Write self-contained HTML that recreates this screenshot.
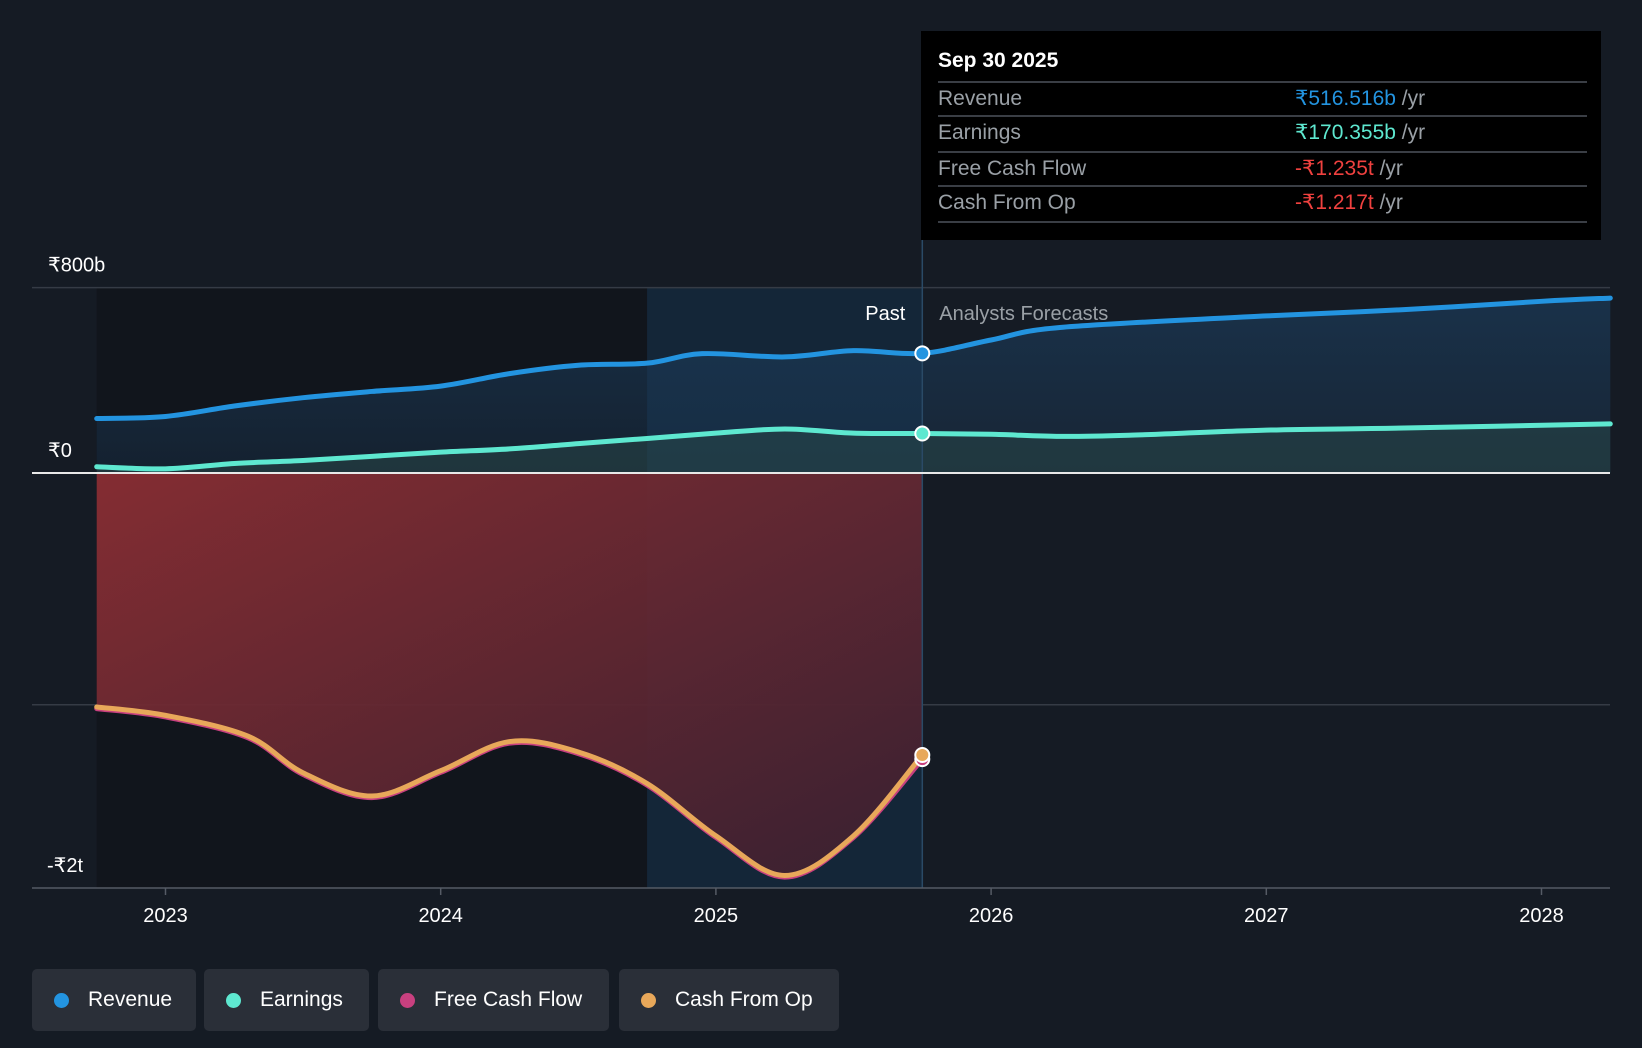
<!DOCTYPE html>
<html><head><meta charset="utf-8">
<style>
body{margin:0;background:#151b24;width:1642px;height:1048px;overflow:hidden;font-family:"Liberation Sans",sans-serif;}
#wrap{position:relative;width:1642px;height:1048px;}
svg{position:absolute;left:0;top:0;}
.tip{position:absolute;left:921px;top:31px;width:680px;height:209px;background:#000;}
.tip .h{position:absolute;left:17px;top:18px;color:#fff;font-size:21px;font-weight:bold;}
.row{position:absolute;left:17px;width:649px;height:34px;border-top:2px solid #3a3e45;font-size:21px;color:#9aa0a6;line-height:32px;}
.row .v{position:absolute;left:357px;top:0;}
.row .u{color:#9aa0a6;}
.legend{position:absolute;top:969px;height:62px;background:#2a2f38;border-radius:5px;color:#fff;font-size:21px;line-height:62px;}
.legend i{position:absolute;left:22px;top:24px;width:15px;height:15px;border-radius:50%;}
.legend span{position:absolute;left:56px;}
</style></head>
<body><div id="wrap">
<svg id="chart" width="1642" height="1048"></svg>
<div class="tip">
 <div class="h">Sep 30 2025</div>
 <div class="row" style="top:50px">Revenue<span class="v"><span style="color:#2394e0">₹516.516b</span> <span class="u">/yr</span></span></div>
 <div class="row" style="top:84px">Earnings<span class="v"><span style="color:#5ee8d0">₹170.355b</span> <span class="u">/yr</span></span></div>
 <div class="row" style="top:120px">Free Cash Flow<span class="v"><span style="color:#f0413f">-₹1.235t</span> <span class="u">/yr</span></span></div>
 <div class="row" style="top:154px;border-bottom:2px solid #3a3e45">Cash From Op<span class="v"><span style="color:#f0413f">-₹1.217t</span> <span class="u">/yr</span></span></div>
</div>
<div class="legend" style="left:32px;width:164px"><i style="background:#2394e0"></i><span>Revenue</span></div>
<div class="legend" style="left:204px;width:165px"><i style="background:#5ee8d0"></i><span>Earnings</span></div>
<div class="legend" style="left:378px;width:231px"><i style="background:#c8407f"></i><span>Free Cash Flow</span></div>
<div class="legend" style="left:619px;width:220px"><i style="background:#e8a85a"></i><span>Cash From Op</span></div>
</div>
<script>
const revT=[2022.75,2023,2023.25,2023.5,2023.75,2024,2024.25,2024.5,2024.75,2024.95,2025.25,2025.5,2025.75,2026,2026.25,2027,2027.5,2028,2028.25];
const revV=[235,244,289,325,352,375,429,465,474,515,501,528,516.5,574,628,678,705,741,755];
const earT=[2022.75,2023,2023.25,2023.5,2023.75,2024,2024.25,2024.5,2024.75,2025,2025.25,2025.5,2025.75,2026,2026.25,2026.5,2027,2027.5,2028.25];
const earV=[27,18,41,54,72,90,104,127,149,172,190,172,170.4,167,158,163,185,194,212];
const fcfT=[2022.75,2023,2023.3,2023.5,2023.75,2024,2024.25,2024.5,2024.75,2025,2025.25,2025.5,2025.75];
const fcfV=[-1017,-1053,-1143,-1301,-1401,-1292,-1166,-1211,-1347,-1573,-1744,-1573,-1235];
const cfoV=[-1010,-1046,-1136,-1294,-1394,-1285,-1159,-1204,-1340,-1566,-1737,-1566,-1217];
const yearTicks=[2023,2024,2025,2026,2027,2028];
const yTicks=[800,0,-1000];
const yLabels=["₹800b","₹0",""];

const X=t=>165.5+(t-2023)*275.2;
const Y=v=>473-v*0.2317;
const svg=document.getElementById('chart');
const NS='http://www.w3.org/2000/svg';
function el(tag,attrs,parent){const e=document.createElementNS(NS,tag);for(const k in attrs)e.setAttribute(k,attrs[k]);(parent||svg).appendChild(e);return e;}
function smooth(ts,vs){const p=ts.map((t,i)=>[X(t),Y(vs[i])]);let d=`M${p[0][0]},${p[0][1]}`;
 for(let i=0;i<p.length-1;i++){const p0=p[Math.max(0,i-1)],p1=p[i],p2=p[i+1],p3=p[Math.min(p.length-1,i+2)];
 const c1=[p1[0]+(p2[0]-p0[0])/6,p1[1]+(p2[1]-p0[1])/6],c2=[p2[0]-(p3[0]-p1[0])/6,p2[1]-(p3[1]-p1[1])/6];
 d+=`C${c1[0]},${c1[1]} ${c2[0]},${c2[1]} ${p2[0]},${p2[1]}`;}return d;}

const defs=el('defs',{});
let g=el('linearGradient',{id:'neg',x1:0,y1:0,x2:1,y2:1},defs);
el('stop',{offset:0,'stop-color':'#8a2e33'},g);el('stop',{offset:1,'stop-color':'#3a2030'},g);
g=el('linearGradient',{id:'neg2',x1:0,y1:0,x2:1,y2:1},defs);
el('stop',{offset:0,'stop-color':'#7a3040'},g);el('stop',{offset:1,'stop-color':'#4a3a58'},g);
g=el('linearGradient',{id:'rev',x1:0,y1:0,x2:0,y2:1},defs);
el('stop',{offset:0,'stop-color':'#1b3a58','stop-opacity':0.9},g);el('stop',{offset:1,'stop-color':'#1b3a58','stop-opacity':0.4},g);

const nowX=X(2025.75),pastX=X(2024.75),x0=X(2022.75);
let r=el('rect',{x:x0,y:288,width:pastX-x0,height:600,fill:'#11151c'});

r=el('rect',{x:pastX,y:288,width:nowX-pastX,height:600,fill:'#142638'});


// grid
yTicks.forEach((v,i)=>{const l=el('line',{x1:32,x2:1610,y1:Y(v),y2:Y(v),stroke:'#353b45','stroke-width':1.5});
 
 if(yLabels[i]){const t=el('text',{x:48,y:Y(v)-16,fill:'#fff','font-size':20});t.textContent=yLabels[i];
 }});
let t=el('text',{x:47,y:872,fill:'#fff','font-size':20});t.textContent='-₹2t';


// negative area fcf
const fcfD=smooth(fcfT,fcfV);
let a=el('path',{d:`M${x0},${Y(0)} L${x0},${Y(fcfV[0])} `+fcfD.replace(/^M[^C]*/,'')+` L${nowX},${Y(0)}Z`,fill:'url(#neg)',opacity:0.95});

a=el('path',{d:`M${pastX},${Y(0)} L${pastX},900 L${nowX},900 L${nowX},${Y(0)}Z`,fill:'#ffffff',opacity:0.0});

// revenue area
const revD=smooth(revT,revV),earD=smooth(earT,earV);
a=el('path',{d:revD+` L${X(revT[revT.length-1])},${Y(0)} L${x0},${Y(0)}Z`,fill:'url(#rev)',opacity:0.8});

a=el('path',{d:earD+` L${X(earT[earT.length-1])},${Y(0)} L${x0},${Y(0)}Z`,fill:'#2a4a4a',opacity:0.5});


// now line
let l=el('line',{x1:nowX,x2:nowX,y1:240,y2:888,stroke:'#2a4a66','stroke-width':1.5});

l=el('line',{x1:32,x2:1610,y1:Y(0),y2:Y(0),stroke:'#e8e8e8','stroke-width':2});


const series=[[revD,'#2394e0','revenue-line'],[earD,'#5ee8d0','earnings-line'],[fcfD,'#c8407f','fcf-line'],[smooth(fcfT,cfoV),'#e8a85a','cfo-line']];
series.forEach(s=>{const p=el('path',{d:s[0],fill:'none',stroke:s[1],'stroke-width':5,'stroke-linecap':'round'});
 });

[[revV[12],'#2394e0','revenue-marker'],[earV[12],'#5ee8d0','earnings-marker'],[fcfV[12],'#c8407f','fcf-marker'],[cfoV[12],'#e8a85a','cfo-marker']].forEach(m=>{
 const c=el('circle',{cx:nowX,cy:Y(m[0]),r:7,fill:m[1],stroke:'#fff','stroke-width':2});
 });

t=el('text',{x:nowX-17,y:320,fill:'#fff','font-size':20,'text-anchor':'end'});t.textContent='Past';

t=el('text',{x:nowX+17,y:320,fill:'#9aa0a6','font-size':20});t.textContent='Analysts Forecasts';


l=el('line',{x1:32,x2:1610,y1:888,y2:888,stroke:'#555b65','stroke-width':1.5});

yearTicks.forEach(y=>{const k=el('line',{x1:X(y),x2:X(y),y1:888,y2:895,stroke:'#555b65','stroke-width':1.5});
 
 const tt=el('text',{x:X(y),y:922,fill:'#fff','font-size':20,'text-anchor':'middle'});tt.textContent=y;
 });
</script>
</body></html>
